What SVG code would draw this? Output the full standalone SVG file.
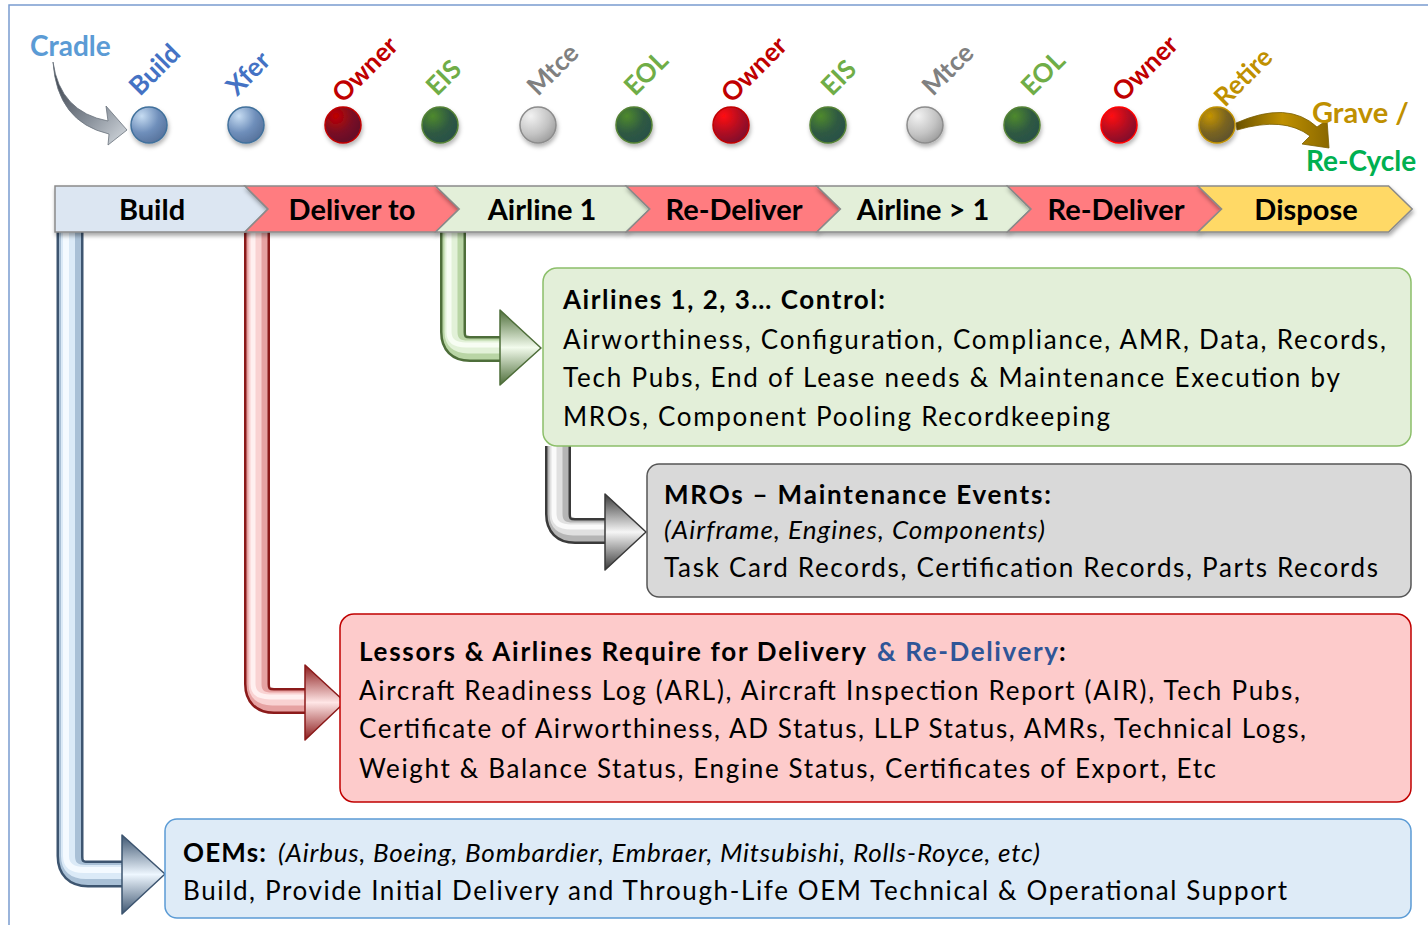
<svg xmlns="http://www.w3.org/2000/svg" width="1428" height="925" viewBox="0 0 1428 925">
<defs>
<style>
text{font-family:Lato,"Liberation Sans",sans-serif;}
.b{font-weight:bold;}
.lbl{font-size:26px;font-weight:bold;}
.chev{stroke:#8a8a8a;stroke-width:1.5;filter:url(#sh);}
.cl{font-size:29px;font-weight:bold;fill:#000;text-anchor:middle;}
.body{font-size:26px;fill:#000;}
.it{font-style:italic;}
.node{stroke-width:1.5;}
</style>
<filter id="sh" x="-5%" y="-20%" width="110%" height="150%"><feDropShadow dx="1" dy="3" stdDeviation="2" flood-color="#000" flood-opacity="0.35"/></filter>
<filter id="sh2" x="-20%" y="-20%" width="150%" height="160%"><feDropShadow dx="1" dy="3" stdDeviation="2" flood-color="#000" flood-opacity="0.3"/></filter>
<radialGradient id="gBlue" cx="0.3" cy="0.25" r="0.85"><stop offset="0" stop-color="#c6dcf2"/><stop offset="0.55" stop-color="#6f8fbb"/><stop offset="1" stop-color="#557099"/></radialGradient>
<radialGradient id="gRed" cx="0.3" cy="0.25" r="0.85"><stop offset="0" stop-color="#c00000"/><stop offset="0.55" stop-color="#7a0e24"/><stop offset="1" stop-color="#5e0f2a"/></radialGradient>
<radialGradient id="gRed2" cx="0.3" cy="0.25" r="0.85"><stop offset="0" stop-color="#ff1010"/><stop offset="0.55" stop-color="#b00a22"/><stop offset="1" stop-color="#7a0f2e"/></radialGradient>
<radialGradient id="gGreen" cx="0.3" cy="0.25" r="0.85"><stop offset="0" stop-color="#4f8a2c"/><stop offset="0.55" stop-color="#2f5a42"/><stop offset="1" stop-color="#284e48"/></radialGradient>
<radialGradient id="gGray" cx="0.3" cy="0.25" r="0.85"><stop offset="0" stop-color="#f2f2f2"/><stop offset="0.6" stop-color="#c4c4c4"/><stop offset="1" stop-color="#9a9a9a"/></radialGradient>
<radialGradient id="gGold" cx="0.3" cy="0.25" r="0.85"><stop offset="0" stop-color="#c59400"/><stop offset="0.55" stop-color="#7a6420"/><stop offset="1" stop-color="#5a5030"/></radialGradient>
<linearGradient id="gCradle" x1="0" y1="0" x2="1" y2="1"><stop offset="0" stop-color="#303640"/><stop offset="0.6" stop-color="#8a929c"/><stop offset="1" stop-color="#d8dde2"/></linearGradient>
<linearGradient id="gGrave" x1="0" y1="0" x2="1" y2="0"><stop offset="0" stop-color="#6a5200"/><stop offset="0.5" stop-color="#bf9000"/><stop offset="1" stop-color="#8a6800"/></linearGradient>
<linearGradient id="hBlue" x1="0" y1="0" x2="0" y2="1"><stop offset="0" stop-color="#3d5570"/><stop offset="0.5" stop-color="#eef7ff"/><stop offset="1" stop-color="#3d5570"/></linearGradient>
<linearGradient id="hRed" x1="0" y1="0" x2="0" y2="1"><stop offset="0" stop-color="#8b1a1a"/><stop offset="0.5" stop-color="#ffe6e6"/><stop offset="1" stop-color="#8b1a1a"/></linearGradient>
<linearGradient id="hGreen" x1="0" y1="0" x2="0" y2="1"><stop offset="0" stop-color="#4e6e3a"/><stop offset="0.5" stop-color="#f2fbec"/><stop offset="1" stop-color="#4e6e3a"/></linearGradient>
<linearGradient id="hGray" x1="0" y1="0" x2="0" y2="1"><stop offset="0" stop-color="#3a3a3a"/><stop offset="0.5" stop-color="#f6f6f6"/><stop offset="1" stop-color="#3a3a3a"/></linearGradient>
</defs>

<rect x="0" y="0" width="1428" height="925" fill="#fff"/>
<rect x="9" y="5" width="1440" height="940" fill="none" stroke="#7a9cd0" stroke-width="1.5"/>

<!-- connectors -->
<g id="connectors" fill="none" stroke-linejoin="round">
  <g id="arrow-oem">
    <path d="M70,232 V856 Q70,874 88,874 H124" stroke="#3d5570" stroke-width="27"/>
    <path d="M70,232 V856 Q70,874 88,874 H124" stroke="#a9c0d6" stroke-width="22"/>
    <path d="M68,232 V856 Q68,872 86,872 H124" stroke="#dbeaf7" stroke-width="14"/>
    <path d="M66,232 V856 Q66,870 84,870 H124" stroke="#f4faff" stroke-width="6"/>
    <polygon points="122,835 165,874 122,914" fill="url(#hBlue)" stroke="#3d5570" stroke-width="1.5"/>
  </g>
  <g id="arrow-lessor">
    <path d="M257,232 V684 Q257,701 274,701 H307" stroke="#8b1a1a" stroke-width="26"/>
    <path d="M257,232 V684 Q257,701 274,701 H307" stroke="#e6a2a2" stroke-width="21"/>
    <path d="M255,232 V684 Q255,699 272,699 H307" stroke="#f9d2d2" stroke-width="13"/>
    <path d="M253,232 V684 Q253,697 270,697 H307" stroke="#fff0f0" stroke-width="5"/>
    <polygon points="305,665 345,702 305,740" fill="url(#hRed)" stroke="#8b1a1a" stroke-width="1.5"/>
  </g>
  <g id="arrow-airline">
    <path d="M453,232 V332 Q453,349 470,349 H502" stroke="#4e6e3a" stroke-width="26"/>
    <path d="M453,232 V332 Q453,349 470,349 H502" stroke="#b9d5a5" stroke-width="21"/>
    <path d="M451,232 V332 Q451,347 468,347 H502" stroke="#e2f1d8" stroke-width="13"/>
    <path d="M449,232 V332 Q449,345 466,345 H502" stroke="#f7fdf3" stroke-width="5"/>
    <polygon points="500,310 541,348 500,385" fill="url(#hGreen)" stroke="#4e6e3a" stroke-width="1.5"/>
  </g>
  <g id="arrow-mro">
    <path d="M558,446 V514 Q558,531 575,531 H607" stroke="#3a3a3a" stroke-width="26"/>
    <path d="M558,446 V514 Q558,531 575,531 H607" stroke="#b5b5b5" stroke-width="21"/>
    <path d="M556,446 V514 Q556,529 573,529 H607" stroke="#e0e0e0" stroke-width="13"/>
    <path d="M554,446 V514 Q554,527 571,527 H607" stroke="#fafafa" stroke-width="5"/>
    <polygon points="605,494 646,532 605,570" fill="url(#hGray)" stroke="#3a3a3a" stroke-width="1.5"/>
  </g>
  <path id="arrow-cradle" d="M53,62 Q60,112 108,121 L106,106 L127,130 L108,145 L109,134 Q57,122 53,62 Z" fill="url(#gCradle)" stroke="#6a727c" stroke-width="0.8"/>
  <path id="arrow-grave" d="M1236,123 Q1288,100 1317,127 L1327,120 L1329,148 L1302,144 L1310,136 Q1284,116 1237,130 Z" fill="url(#gGrave)" stroke="#7a5e00" stroke-width="0.8"/>
  <line x1="149" y1="125" x2="1217" y2="125" stroke="#8c8c8c" stroke-width="2" filter="url(#sh2)"/>
</g>

<!-- timeline nodes -->
<g id="timeline">
  <g id="t-build"><circle class="node" cx="149" cy="125" r="18" fill="url(#gBlue)" stroke="#41719c" filter="url(#sh2)"/><text class="lbl" fill="#4472c4" transform="translate(140,97) rotate(-45)">Build</text></g>
  <g id="t-xfer"><circle class="node" cx="246" cy="125" r="18" fill="url(#gBlue)" stroke="#41719c" filter="url(#sh2)"/><text class="lbl" fill="#4472c4" transform="translate(237,97) rotate(-45)">Xfer</text></g>
  <g id="t-owner1"><circle class="node" cx="343" cy="125" r="18" fill="url(#gRed)" stroke="#c00000" filter="url(#sh2)"/><text class="lbl" fill="#c00000" transform="translate(343,104) rotate(-45)">Owner</text></g>
  <g id="t-eis1"><circle class="node" cx="440" cy="125" r="18" fill="url(#gGreen)" stroke="#548235" filter="url(#sh2)"/><text class="lbl" fill="#70ad47" transform="translate(437,97) rotate(-45)">EIS</text></g>
  <g id="t-mtce1"><circle class="node" cx="538" cy="125" r="18" fill="url(#gGray)" stroke="#8c8c8c" filter="url(#sh2)"/><text class="lbl" fill="#808080" transform="translate(538,97) rotate(-45)">Mtce</text></g>
  <g id="t-eol1"><circle class="node" cx="634" cy="125" r="18" fill="url(#gGreen)" stroke="#548235" filter="url(#sh2)"/><text class="lbl" fill="#70ad47" transform="translate(635,97) rotate(-45)">EOL</text></g>
  <g id="t-owner2"><circle class="node" cx="731" cy="125" r="18" fill="url(#gRed2)" stroke="#c00000" filter="url(#sh2)"/><text class="lbl" fill="#c00000" transform="translate(732,104) rotate(-45)">Owner</text></g>
  <g id="t-eis2"><circle class="node" cx="828" cy="125" r="18" fill="url(#gGreen)" stroke="#548235" filter="url(#sh2)"/><text class="lbl" fill="#70ad47" transform="translate(832,97) rotate(-45)">EIS</text></g>
  <g id="t-mtce2"><circle class="node" cx="925" cy="125" r="18" fill="url(#gGray)" stroke="#8c8c8c" filter="url(#sh2)"/><text class="lbl" fill="#808080" transform="translate(933,97) rotate(-45)">Mtce</text></g>
  <g id="t-eol2"><circle class="node" cx="1022" cy="125" r="18" fill="url(#gGreen)" stroke="#548235" filter="url(#sh2)"/><text class="lbl" fill="#70ad47" transform="translate(1032,97) rotate(-45)">EOL</text></g>
  <g id="t-owner3"><circle class="node" cx="1119" cy="125" r="18" fill="url(#gRed2)" stroke="#ff0000" filter="url(#sh2)"/><text class="lbl" fill="#c00000" transform="translate(1123,103) rotate(-45)">Owner</text></g>
  <g id="t-retire"><circle class="node" cx="1217" cy="125" r="18" fill="url(#gGold)" stroke="#bf9000" filter="url(#sh2)"/><text class="lbl" fill="#bf9000" transform="translate(1225,108) rotate(-45)">Retire</text></g>
</g>

<g id="cradle"><text x="30" y="56" class="b" font-size="28" fill="#5b9bd5">Cradle</text></g>
<g id="grave"><text x="1312" y="123" class="b" font-size="29" fill="#bf9000">Grave /</text><text x="1306" y="171" class="b" font-size="28" fill="#00b050">Re-Cycle</text></g>

<!-- chevrons -->
<g id="phases">
  <g id="p-build"><path class="chev" d="M55,186 H245 L268,209 L245,232 H55 Z" fill="#dce6f2"/><text class="cl" x="152" y="220">Build</text></g>
  <g id="p-deliver"><path class="chev" d="M245,186 H435.6 L459.2,209 L435.6,232 H245 L268,209 Z" fill="#ff7c80"/><text class="cl" x="352" y="220">Deliver to</text></g>
  <g id="p-airline1"><path class="chev" d="M435.6,186 H626.2 L649.8,209 L626.2,232 H435.6 L459.2,209 Z" fill="#e3efd9"/><text class="cl" x="542" y="220">Airline 1</text></g>
  <g id="p-redeliver1"><path class="chev" d="M626.2,186 H816.8 L840.4,209 L816.8,232 H626.2 L649.8,209 Z" fill="#ff7c80"/><text class="cl" x="734" y="220">Re-Deliver</text></g>
  <g id="p-airline2"><path class="chev" d="M816.8,186 H1007.4 L1031,209 L1007.4,232 H816.8 L840.4,209 Z" fill="#e3efd9"/><text class="cl" x="923" y="220">Airline &gt; 1</text></g>
  <g id="p-redeliver2"><path class="chev" d="M1007.4,186 H1198 L1221.6,209 L1198,232 H1007.4 L1031,209 Z" fill="#ff7c80"/><text class="cl" x="1116" y="220">Re-Deliver</text></g>
  <g id="p-dispose"><path class="chev" d="M1198,186 H1388.6 L1412.2,209 L1388.6,232 H1198 L1221.6,209 Z" fill="#ffd966"/><text class="cl" x="1306" y="220">Dispose</text></g>
</g>

<!-- boxes -->
<g id="box-airlines">
  <rect x="543" y="268" width="868" height="178" rx="14" fill="#e3efd9" stroke="#8cbf6a" stroke-width="1.5"/>
  <text class="body b" x="563" y="309" textLength="322" lengthAdjust="spacing">Airlines 1, 2, 3… Control:</text>
  <text class="body" x="563" y="349" textLength="823" lengthAdjust="spacing">Airworthiness, Configuration, Compliance, AMR, Data, Records,</text>
  <text class="body" x="563" y="387" textLength="777" lengthAdjust="spacing">Tech Pubs, End of Lease needs &amp; Maintenance Execution by</text>
  <text class="body" x="563" y="426" textLength="547" lengthAdjust="spacing">MROs, Component Pooling Recordkeeping</text>
</g>
<g id="box-mro">
  <rect x="647" y="464" width="764" height="133" rx="12" fill="#d9d9d9" stroke="#555" stroke-width="1.5"/>
  <text class="body b" x="664" y="504" textLength="387" lengthAdjust="spacing">MROs – Maintenance Events:</text>
  <text class="body it" x="664" y="539" textLength="381" lengthAdjust="spacing">(Airframe, Engines, Components)</text>
  <text class="body" x="664" y="577" textLength="714" lengthAdjust="spacing">Task Card Records, Certification Records, Parts Records</text>
</g>
<g id="box-lessors">
  <rect x="340" y="614" width="1071" height="188" rx="14" fill="#fdcbcb" stroke="#c00000" stroke-width="1.5"/>
  <text class="body b" x="359" y="661"><tspan textLength="507" lengthAdjust="spacing">Lessors &amp; Airlines Require for Delivery</tspan><tspan x="877" fill="#2f5597" textLength="181" lengthAdjust="spacing">&amp; Re-Delivery</tspan><tspan x="1059">:</tspan></text>
  <text class="body" x="359" y="700" textLength="941" lengthAdjust="spacing">Aircraft Readiness Log (ARL), Aircraft Inspection Report (AIR), Tech Pubs,</text>
  <text class="body" x="359" y="738" textLength="947" lengthAdjust="spacing">Certificate of Airworthiness, AD Status, LLP Status, AMRs, Technical Logs,</text>
  <text class="body" x="359" y="778" textLength="857" lengthAdjust="spacing">Weight &amp; Balance Status, Engine Status, Certificates of Export, Etc</text>
</g>
<g id="box-oem">
  <rect x="165" y="819" width="1246" height="99" rx="12" fill="#deebf7" stroke="#5b9bd5" stroke-width="1.5"/>
  <text class="body" x="183" y="862"><tspan class="b" textLength="83" lengthAdjust="spacing">OEMs:</tspan><tspan x="278" class="it" textLength="762" lengthAdjust="spacing">(Airbus, Boeing, Bombardier, Embraer, Mitsubishi, Rolls-Royce, etc)</tspan></text>
  <text class="body" x="183" y="900" textLength="1104" lengthAdjust="spacing">Build, Provide Initial Delivery and Through-Life OEM Technical &amp; Operational Support</text>
</g>
</svg>
